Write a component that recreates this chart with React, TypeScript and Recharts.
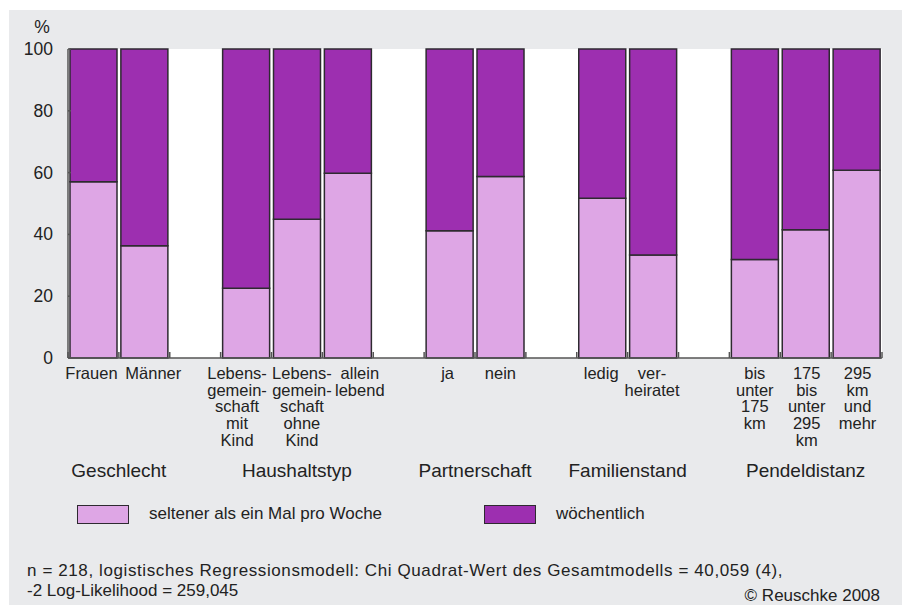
import { BarChart, Bar, XAxis, YAxis, CartesianGrid } from "recharts";

// category labels, one string per printed line ([] = empty slot between groups)
const categoryLabels: string[][] = [
  ["Frauen"],
  ["Männer"],
  [],
  ["Lebens-", "gemein-", "schaft", "mit", "Kind"],
  ["Lebens-", "gemein-", "schaft", "ohne", "Kind"],
  ["allein", "lebend"],
  [],
  ["ja"],
  ["nein"],
  [],
  ["ledig"],
  ["ver-", "heiratet"],
  [],
  ["bis", "unter", "175", "km"],
  ["175", "bis", "unter", "295", "km"],
  ["295", "km", "und", "mehr"],
];

const seltener: (number | null)[] = [
  57, 36.3, null, 22.6, 44.9, 59.8, null, 41.2, 58.7, null, 51.7, 33.3, null, 31.9, 41.5, 60.8,
];
const woechentlich: (number | null)[] = [
  43, 63.7, null, 77.4, 55.1, 40.2, null, 58.8, 41.3, null, 48.3, 66.7, null, 68.1, 58.5, 39.2,
];

const groupLabels = ["Geschlecht", "Haushaltstyp", "Partnerschaft", "Familienstand", "Pendeldistanz"];
const groupStart = [0, 3, 7, 10, 13];
const groupSize = [2, 3, 2, 2, 3];

const yTicks = [0, 20, 40, 60, 80, 100];
const seriesNames = ["seltener als ein Mal pro Woche", "wöchentlich"];
const footnote = [
  "n = 218, logistisches Regressionsmodell: Chi Quadrat-Wert des Gesamtmodells = 40,059 (4),",
  "-2 Log-Likelihood = 259,045",
];
const copyright = "© Reuschke 2008";

const LIGHT = "#dea6e5";
const DARK = "#9d2fb0";
const EDGE = "#2e2a30";
const AXIS = "#555";
const BG = "#e9eaec";
const INK = "#222";
const FONT = '"Liberation Sans", Arial, Helvetica, sans-serif';

// small horizontal nudges of the printed labels (as in the original layout)
const labelNudge = [-2, 9, 0, -9, 5, 12, 0, -2, 0, 0, -1, -1, 0, 0, 1, 1];

const data = categoryLabels.map((lines, i) => ({
  key: `c${i}`,
  seltener: seltener[i],
  woechentlich: woechentlich[i],
}));

function XTick(props: any) {
  const { x, y, payload } = props;
  const idx = data.findIndex((d) => d.key === payload.value);
  const half =
    payload.offset && payload.offset > 0
      ? payload.offset
      : (props.width || 814) / categoryLabels.length / 2;
  const lines = categoryLabels[idx] || [];
  const g = groupStart.indexOf(idx);
  const lx = x + (labelNudge[idx] || 0);
  return (
    <g>
      <line x1={x - half} x2={x - half} y1={y} y2={y - 6} stroke={AXIS} strokeWidth={1.5} />
      {idx === categoryLabels.length - 1 && (
        <line x1={x + half} x2={x + half} y1={y} y2={y - 6} stroke={AXIS} strokeWidth={1.5} />
      )}
      {lines.length > 0 && (
        <text x={lx} y={y + 21} textAnchor="middle" fontSize={16.5} fill={INK} fontFamily={FONT}>
          {lines.map((l, k) => (
            <tspan key={k} x={lx} dy={k === 0 ? 0 : 16.7}>
              {l}
            </tspan>
          ))}
        </text>
      )}
      {g >= 0 && (
        <text
          x={x + (groupSize[g] - 1) * half}
          y={y + 119}
          textAnchor="middle"
          fontSize={19}
          fill={INK}
          fontFamily={FONT}
        >
          {groupLabels[g]}
        </text>
      )}
    </g>
  );
}

function YTick(props: any) {
  const { x, y, payload } = props;
  return (
    <g>
      <line x1={x + 15} x2={x + 18} y1={y} y2={y} stroke={AXIS} strokeWidth={1.5} />
      <text x={x} y={y + 6} textAnchor="end" fontSize={17.5} fill={INK} fontFamily={FONT}>
        {payload.value}
      </text>
      {payload.value === 100 && (
        <text x={x - 11} y={y - 16} textAnchor="middle" fontSize={17.5} fill={INK} fontFamily={FONT}>
          %
        </text>
      )}
    </g>
  );
}

function Swatch({ color, left, label, textLeft }: { color: string; left: number; label: string; textLeft: number }) {
  return (
    <>
      <div
        style={{
          position: "absolute",
          left,
          top: 505,
          width: 50,
          height: 17,
          background: color,
          border: `1.5px solid ${EDGE}`,
        }}
      />
      <div style={{ position: "absolute", left: textLeft, top: 504, fontSize: 17, lineHeight: "20px", color: INK, whiteSpace: "nowrap" }}>
        {label}
      </div>
    </>
  );
}

export default function App() {
  return (
    <div style={{ position: "absolute", left: 0, top: 0, width: 902, height: 605, fontFamily: FONT, overflow: "hidden" }}>
      <div style={{ position: "absolute", left: 9, top: 10, width: 893, height: 595, background: BG }} />
      <div style={{ position: "absolute", left: 0, top: 0 }}>
        <BarChart
          width={902}
          height={490}
          data={data}
          margin={{ top: 49, right: 20, left: 8, bottom: 0 }}
          barCategoryGap={2}
        >
          <CartesianGrid horizontal={false} vertical={false} fill="#ffffff" stroke="none" />
          <XAxis
            dataKey="key"
            interval={0}
            height={132}
            tickSize={0}
            tickMargin={0}
            tickLine={false}
            axisLine={{ stroke: AXIS, strokeWidth: 1.5 }}
            tick={<XTick />}
          />
          <YAxis
            domain={[0, 100]}
            ticks={yTicks}
            width={60}
            tickSize={0}
            tickMargin={15}
            tickLine={false}
            axisLine={{ stroke: AXIS, strokeWidth: 1.5 }}
            tick={<YTick />}
          />
          <Bar
            dataKey="seltener"
            name={seriesNames[0]}
            stackId="a"
            fill={LIGHT}
            stroke={EDGE}
            strokeWidth={1.5}
            isAnimationActive={false}
          />
          <Bar
            dataKey="woechentlich"
            name={seriesNames[1]}
            stackId="a"
            fill={DARK}
            stroke={EDGE}
            strokeWidth={1.5}
            isAnimationActive={false}
          />
        </BarChart>
      </div>
      <Swatch color={LIGHT} left={77} label={seriesNames[0]} textLeft={149} />
      <Swatch color={DARK} left={484} label={seriesNames[1]} textLeft={556} />
      <div style={{ position: "absolute", left: 27, top: 561, fontSize: 17, lineHeight: "20px", color: INK, whiteSpace: "nowrap" }}>
        <div style={{ letterSpacing: "0.6px" }}>{footnote[0]}</div>
        <div>{footnote[1]}</div>
      </div>
      <div style={{ position: "absolute", right: 22, top: 586, fontSize: 17, lineHeight: "20px", color: INK, whiteSpace: "nowrap" }}>
        {copyright}
      </div>
    </div>
  );
}
